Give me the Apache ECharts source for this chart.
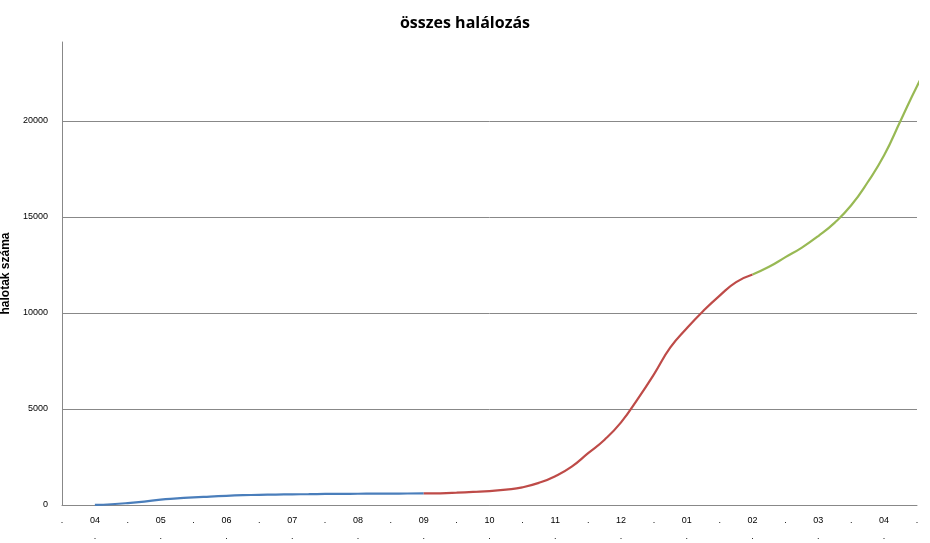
<!DOCTYPE html><html><head><meta charset="utf-8"><script src="https://cdn.jsdelivr.net/npm/echarts@6/dist/echarts.min.js"></script></head><body style="margin:0;background:#fff"><div id="c" style="width:930px;height:543px"></div><script>
const halfLabels=['.','04','.','05','.','06','.','07','.','08','.','09','.','10','.','11','.','12','.','01','.','02','.','03','.','04','.'];
const categories=[];for(let i=0;i<53;i++)categories.push(i);
const blue=[null,null,5,40,100,180,280,340,400,440,480,510,530,545,555,565,575,580,585,590,595,598,600];
const red=[null,null,null,null,null,null,null,null,null,null,null,null,null,null,null,null,null,null,null,null,null,null,600,610,640,680,720,800,920,1150,1500,2000,2700,3400,4300,5500,6800,8200,9200,10100,10900,11600,12000];
const green=[];for(let i=0;i<42;i++)green.push(null);
green.push(12000,12400,12900,13400,14000,14700,15600,16800,18200,20000,21800,23400);
const ch=echarts.init(document.getElementById('c'));
const mk=(d,c)=>({type:'line',data:d,symbol:'none',smooth:true,lineStyle:{color:c,width:2.2},itemStyle:{color:c}});
ch.setOption({animation:false,
title:{text:'összes halálozás',left:'center',top:10,textStyle:{fontFamily:'Open Sans',fontWeight:'bold',fontSize:16,color:'#000'}},
grid:{left:62,right:13,top:42,bottom:38,containLabel:false,outerBoundsMode:'none'},
xAxis:{type:'category',data:categories,boundaryGap:false,axisLine:{lineStyle:{color:'#888'}},axisTick:{show:false},
 axisLabel:{interval:1,fontSize:9,color:'#000',lineHeight:16,formatter:(v)=>{const k=v/2;const l=halfLabels[k];return l==='.'?l+'\n ':l+'\n.';}}},
yAxis:{type:'value',min:0,max:24100,interval:5000,name:'halotak száma',nameLocation:'middle',nameGap:40,nameTextStyle:{fontWeight:'bold',fontSize:12,color:'#000'},
 axisLine:{show:true,lineStyle:{color:'#888'}},axisLabel:{fontSize:9,color:'#000',showMaxLabel:false,margin:14,formatter:(v)=>String(v)},splitLine:{showMaxLine:false,lineStyle:{color:'#888'}}},
series:[mk(blue,'#4a7ebb'),mk(red,'#be4b48'),mk(green,'#98b954')]});
</script></body></html>
